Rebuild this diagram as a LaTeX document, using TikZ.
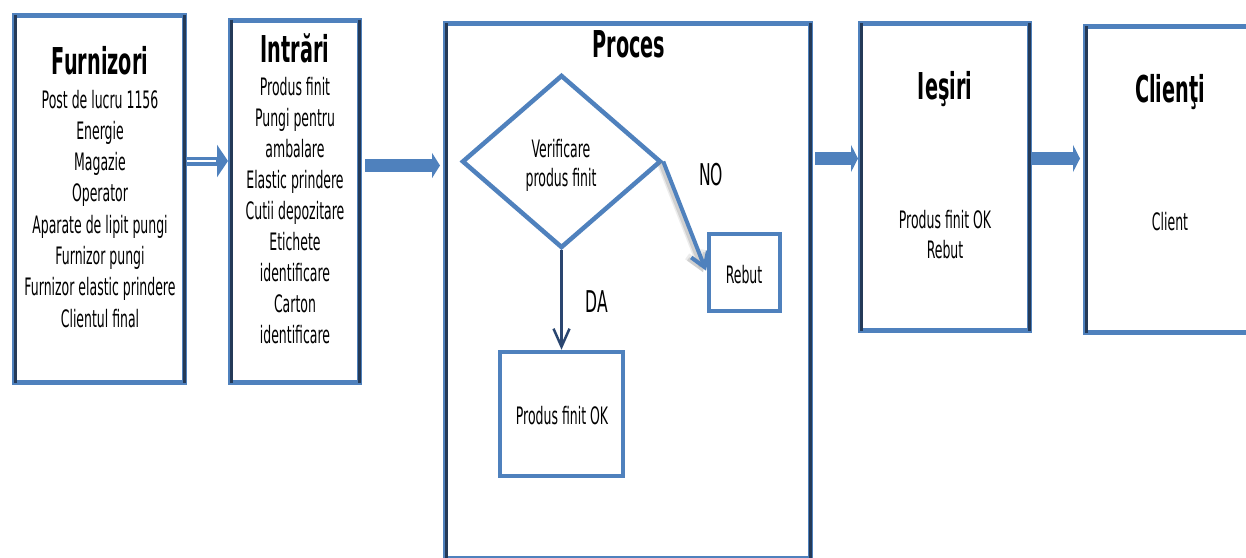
\documentclass[tikz,border=0pt]{standalone}
\usepackage{fontspec}
\newfontfamily\cf[FakeStretch=0.52]{DejaVu Sans}
\usetikzlibrary{arrows.meta,shapes.geometric}
\definecolor{boxblue}{RGB}{79,129,189}
\definecolor{edgedark}{RGB}{36,58,88}
\definecolor{linkdark}{RGB}{42,70,112}
\begin{document}
\begin{tikzpicture}[x=1pt,y=-1pt,
  panel/.style={draw=boxblue, line width=5pt, fill=white, rectangle, inner sep=0pt},
  sideline/.style={draw=edgedark, line width=3pt},
  inbox/.style={draw=boxblue, line width=4.5pt, fill=white, rectangle, inner sep=0pt},
  decision/.style={draw=boxblue, line width=4.5pt, fill=white, diamond, inner sep=0pt},
  title/.style={font=\cf\bfseries\fontsize{37}{40}\selectfont, anchor=base, inner sep=0pt},
  body/.style={font=\cf\fontsize{24}{31}\selectfont, anchor=base, inner sep=0pt},
  tag/.style={font=\cf\fontsize{30}{34}\selectfont, anchor=base, inner sep=0pt},
  flowarrow/.style={draw=boxblue, line width=13pt},
  noarrow/.style={line width=4pt, -{Straight Barb[length=14pt,width=18pt]}, shorten >=2pt},
]
\useasboundingbox (0,0) rectangle (1246,557);

% main panels
\node[panel, minimum width=170pt, minimum height=367pt]   (furn) at (99.5,199) {};
\node[panel, minimum width=129pt, minimum height=362.5pt] (intr) at (295,201.25) {};
\node[panel, minimum width=365pt, minimum height=534.5pt] (proc) at (628,290.75) {};
\node[panel, minimum width=169pt, minimum height=307pt]   (ies)  at (945,177) {};
\node[panel, minimum width=176.5pt, minimum height=306pt] (cli)  at (1173.75,179.5) {};

% dark side edges of the panels
\foreach \p in {furn,intr,proc,ies,cli}{
  \draw[sideline] ([xshift=3pt,yshift=-2pt]\p.north west) -- ([xshift=3pt,yshift=2pt]\p.south west);
  \draw[sideline] ([xshift=-3pt,yshift=-2pt]\p.north east) -- ([xshift=-3pt,yshift=2pt]\p.south east);
}

% panel titles
\node[title] (tfurn) at (100,74)   {Furnizori};
\node[title] (tintr) at (295,62)   {Intrări};
\node[title] (tproc) at (629,57)   {Proces};
\node[title] (ties)  at (945,99)   {Ieşiri};
\node[title] (tcli)  at (1170,102) {Clienţi};

% panel contents
\foreach \t [count=\i] in {Post de lucru 1156, Energie, Magazie, Operator,
    Aparate de lipit pungi, Furnizor pungi, Furnizor elastic prindere, Clientul final}
  \node[body] (fl\i) at (100,{108+31.3*(\i-1)}) {\t};
\foreach \t [count=\i] in {Produs finit, Pungi pentru, ambalare, Elastic prindere,
    Cutii depozitare, Etichete, identificare, Carton, identificare}
  \node[body] (il\i) at (295,{95+31*(\i-1)}) {\t};
\node[body] (ol1) at (945,228) {Produs finit OK};
\node[body] (ol2) at (945,258) {Rebut};
\node[body] (cl1) at (1170,230) {Client};

% process flow
\node[decision, minimum width=199pt, minimum height=173pt] (dia) at (561.5,161.5) {};
\node[body] (vt1) at (561,157) {Verificare};
\node[body] (vt2) at (561,186) {produs finit};
\node[inbox, minimum width=71pt, minimum height=77pt]   (rebut) at (744.5,272.5) {};
\node[body] (rbt) at (744,283) {Rebut};
\node[inbox, minimum width=123pt, minimum height=124pt] (pfok) at (561.5,414) {};
\node[body] (pft) at (562,424) {Produs finit OK};
\node[tag] (no) at (711,185) {NO};
\node[tag] (da) at (597,312) {DA};

% soft shadow to the lower left of the NO connector, then the connector itself
\draw[noarrow, black!50, opacity=.15, line width=7pt]
  ([xshift=-3pt,yshift=-1.5pt]dia.east) -- ([xshift=-3pt,yshift=-1.5pt]rebut.west);
\draw[noarrow, black!50, opacity=.25]
  ([xshift=-3pt,yshift=-1.5pt]dia.east) -- ([xshift=-3pt,yshift=-1.5pt]rebut.west);
\draw[noarrow, boxblue] (dia.east) -- (rebut.west);
\draw[line width=2.5pt, linkdark, -{Straight Barb[length=18pt,width=16pt]}]
  (dia.south) -- (pfok.north);

% arrows between panels
\coordinate (r1) at (0,161);
\coordinate (r2) at (0,165.5);
\coordinate (r3) at (0,158.5);
\draw[flowarrow, line width=9pt, -{Triangle[length=11pt,width=32pt]}]
  (furn.east |- r1) -- (intr.west |- r1);
\draw[white, line width=2.5pt] (furn.east |- r1) -- ([xshift=-12pt]intr.west |- r1);
\draw[flowarrow, -{Triangle[length=8pt,width=25pt]}, shorten <=3pt, shorten >=3pt]
  (intr.east |- r2) -- (proc.west |- r2);
\draw[flowarrow, -{Triangle[length=7pt,width=27pt]}, shorten <=2pt]
  (proc.east |- r3) -- (ies.west |- r3);
\draw[flowarrow, -{Triangle[length=7pt,width=27pt]}, shorten >=3pt]
  (ies.east |- r3) -- (cli.west |- r3);
\end{tikzpicture}
\end{document}
